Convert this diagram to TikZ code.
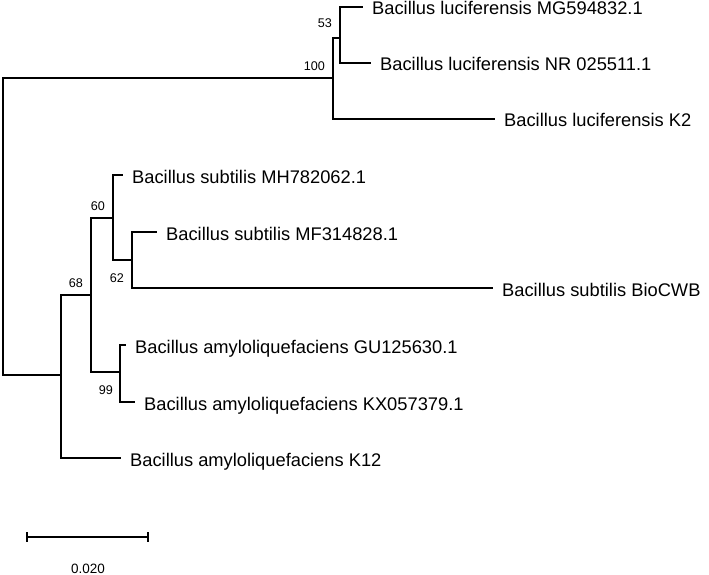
\documentclass[tikz,border=0pt]{standalone}
\usepackage{fontspec}
\setmainfont{Liberation Sans}
\begin{document}
\begin{tikzpicture}[x=1pt,y=-1pt,
  br/.style={line width=1.2pt},
  leaf/.style={anchor=base west,inner sep=0pt,font=\fontsize{18.3}{20}\selectfont},
  boot/.style={anchor=base east,inner sep=0pt,font=\fontsize{12.6}{14}\selectfont},
  scl/.style={anchor=base,inner sep=0pt,font=\fontsize{13.5}{15}\selectfont}]
\useasboundingbox (0,0) rectangle (709,575);
% internal nodes
\coordinate (root) at (3,226);
\coordinate (n100) at (333,78);
\coordinate (n53) at (340,38);
\coordinate (nlow) at (61,375);
\coordinate (n68) at (91,295);
\coordinate (n60) at (113,218);
\coordinate (n62) at (132,260);
\coordinate (n99) at (120,372);
% tips
\coordinate (t1) at (363,7);
\coordinate (t2) at (371,63);
\coordinate (t3) at (495,119);
\coordinate (t4) at (123,175);
\coordinate (t5) at (157,232);
\coordinate (t6) at (493,288);
\coordinate (t7) at (126,345);
\coordinate (t8) at (135,402);
\coordinate (t9) at (121,458);
% branches
\draw[br] (root) |- (n100);
\draw[br] (root) |- (nlow);
\draw[br] (n100) |- (n53);
\draw[br] (n100) |- (t3);
\draw[br] (n53) |- (t1);
\draw[br] (n53) |- (t2);
\draw[br] (nlow) |- (n68);
\draw[br] (nlow) |- (t9);
\draw[br] (n68) |- (n60);
\draw[br] (n68) |- (n99);
\draw[br] (n60) |- (t4);
\draw[br] (n60) |- (n62);
\draw[br] (n62) |- (t5);
\draw[br] (n62) |- (t6);
\draw[br] (n99) |- (t7);
\draw[br] (n99) |- (t8);
% leaf labels
\node[leaf] (l1) at ([xshift=9pt,yshift=-8pt]t1) {Bacillus luciferensis MG594832.1};
\node[leaf] (l2) at ([xshift=9pt,yshift=-8pt]t2) {Bacillus luciferensis NR 025511.1};
\node[leaf] (l3) at ([xshift=9pt,yshift=-8pt]t3) {Bacillus luciferensis K2};
\node[leaf] (l4) at ([xshift=9pt,yshift=-8pt]t4) {Bacillus subtilis MH782062.1};
\node[leaf] (l5) at ([xshift=9pt,yshift=-8pt]t5) {Bacillus subtilis MF314828.1};
\node[leaf] (l6) at ([xshift=9pt,yshift=-8pt]t6) {Bacillus subtilis BioCWB};
\node[leaf] (l7) at ([xshift=9pt,yshift=-8pt]t7) {Bacillus amyloliquefaciens GU125630.1};
\node[leaf] (l8) at ([xshift=9pt,yshift=-8pt]t8) {Bacillus amyloliquefaciens KX057379.1};
\node[leaf] (l9) at ([xshift=9pt,yshift=-8pt]t9) {Bacillus amyloliquefaciens K12};
% bootstrap values
\node[boot] (b100) at ([xshift=-8pt,yshift=7pt]n100) {100};
\node[boot] (b53) at ([xshift=-8pt,yshift=10pt]n53) {53};
\node[boot] (b68) at ([xshift=-8pt,yshift=8pt]n68) {68};
\node[boot] (b60) at ([xshift=-8pt,yshift=8pt]n60) {60};
\node[boot] (b62) at ([xshift=-8pt,yshift=-22pt]n62) {62};
\node[boot] (b99) at ([xshift=-7pt,yshift=-22pt]n99) {99};
% scale bar
\coordinate (s1) at (27,537);
\coordinate (s2) at (148,537);
\draw[br] (s1) -- (s2);
\draw[br] ([yshift=5pt]s1) -- ([yshift=-5pt]s1);
\draw[br] ([yshift=5pt]s2) -- ([yshift=-5pt]s2);
\node[scl] (sl) at (88,573) {0.020};
\end{tikzpicture}
\end{document}
